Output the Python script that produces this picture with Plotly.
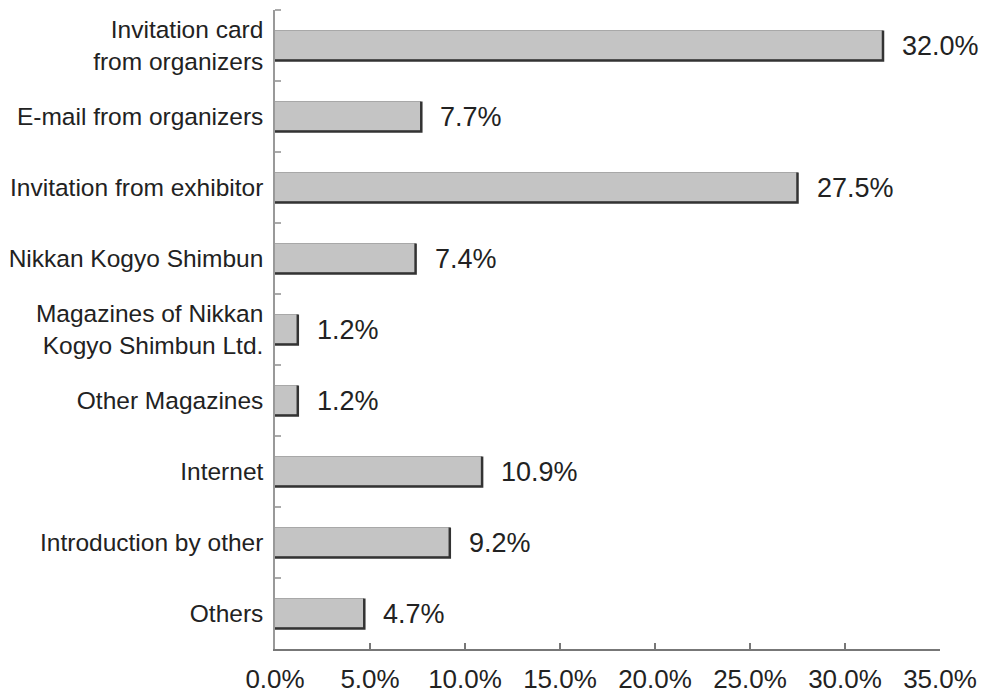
import plotly.graph_objects as go

categories = [
    "Invitation card<br>from organizers",
    "E-mail from organizers",
    "Invitation from exhibitor",
    "Nikkan Kogyo Shimbun",
    "Magazines of Nikkan<br>Kogyo Shimbun Ltd.",
    "Other Magazines",
    "Internet",
    "Introduction by other",
    "Others",
]
values = [32.0, 7.7, 27.5, 7.4, 1.2, 1.2, 10.9, 9.2, 4.7]
x_ticks = [0, 5, 10, 15, 20, 25, 30, 35]
x_tick_labels = ["0.0%", "5.0%", "10.0%", "15.0%", "20.0%", "25.0%", "30.0%", "35.0%"]

pos = list(range(len(categories)))
half = 0.21

fig = go.Figure()
fig.add_trace(go.Bar(
    x=values, y=pos, orientation="h", width=2 * half,
    marker=dict(color="#c4c4c4", line=dict(color="#a8a8a8", width=1)),
    hoverinfo="skip", showlegend=False,
))

# dark right and bottom edges of each bar
ex, ey = [], []
for p, v in zip(pos, values):
    ex += [0, v, v, None]
    ey += [p + half, p + half, p - half, None]
fig.add_trace(go.Scatter(
    x=ex, y=ey, mode="lines", line=dict(color="#333333", width=2.5),
    hoverinfo="skip", showlegend=False,
))

for p, v in zip(pos, values):
    fig.add_annotation(
        x=v, y=p, text=f"{v:.1f}%", showarrow=False,
        xanchor="left", yanchor="middle", xshift=17,
        font=dict(size=27, color="#222222", family="Liberation Sans, Arial, sans-serif"),
    )

# page body has an 8px margin, so the figure is sized/offset to compensate
fig.update_layout(
    width=984, height=686,
    margin=dict(l=267, r=52, t=2, b=45, autoexpand=False),
    paper_bgcolor="white", plot_bgcolor="white",
    font=dict(family="Liberation Sans, Arial, sans-serif", color="#222222"),
    bargap=0,
)
fig.update_xaxes(
    range=[0, 35], tickvals=x_ticks, ticktext=x_tick_labels,
    showgrid=False, zeroline=False, showline=True, linecolor="#777777", linewidth=1.5,
    ticks="inside", ticklen=6, tickcolor="#777777", tickwidth=1.5,
    tickfont=dict(size=26, color="#222222"), ticklabelstandoff=6,
)
fig.update_yaxes(
    range=[8.5, -0.5], tickvals=pos, ticktext=categories,
    showgrid=False, zeroline=False, showline=True, linecolor="#999999", linewidth=1.5,
    ticks="", tickfont=dict(size=24.5, color="#222222"), ticklabelstandoff=5,
    minor=dict(tickvals=[p - 0.5 for p in pos], ticks="inside", ticklen=6,
               tickcolor="#aaaaaa", tickwidth=1.5, showgrid=False),
)

fig.write_html("out.html")
